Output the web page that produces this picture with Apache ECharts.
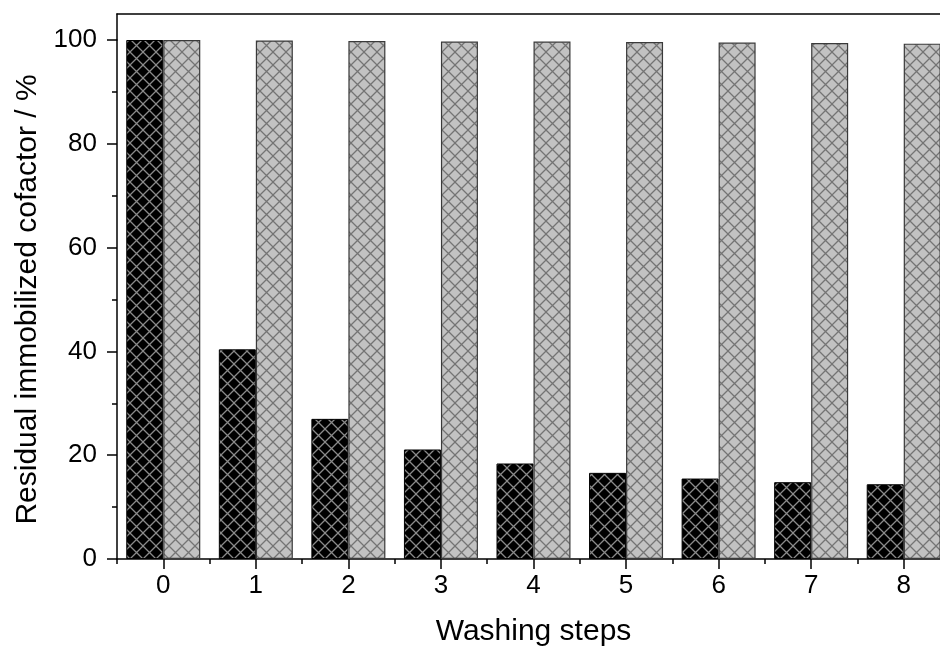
<!DOCTYPE html>
<html>
<head>
<meta charset="utf-8">
<script src="https://cdn.jsdelivr.net/npm/echarts@6/dist/echarts.min.js"></script>
<style>
html,body{margin:0;padding:0;background:#fff;}
#chart{width:940px;height:650px;}
</style>
</head>
<body>
<div id="chart"></div>
<script>
// ---- data ----
var categories = ['0', '1', '2', '3', '4', '5', '6', '7', '8'];
var seriesA = [100, 40.4, 27.0, 21.1, 18.4, 16.6, 15.5, 14.8, 14.4];   // black bars
var seriesB = [100, 99.9, 99.8, 99.7, 99.7, 99.6, 99.5, 99.4, 99.3];   // grey bars
var yTicks = [0, 20, 40, 60, 80, 100];

// ---- hatch patterns ----
function hatch(bg, line) {
  var s = 13;
  var c = document.createElement('canvas');
  c.width = s; c.height = s;
  var ctx = c.getContext('2d');
  ctx.fillStyle = bg;
  ctx.fillRect(0, 0, s, s);
  ctx.strokeStyle = line;
  ctx.lineWidth = 1.3;
  ctx.beginPath();
  ctx.moveTo(-1, -1); ctx.lineTo(s + 1, s + 1);
  ctx.moveTo(s + 1, -1); ctx.lineTo(-1, s + 1);
  ctx.stroke();
  return c;
}
var patBlack = { image: hatch('#000000', '#8a8a8a'), repeat: 'repeat' };
var patGrey = { image: hatch('#c2c2c2', '#747474'), repeat: 'repeat' };

var FONT = 'Liberation Sans, Arial, sans-serif';
var chart = echarts.init(document.getElementById('chart'), null, { renderer: 'canvas' });

chart.setOption({
  backgroundColor: '#ffffff',
  animation: false,
  grid: [
    { left: 117, width: 833, top: 40, bottom: 91, outerBoundsMode: 'none', containLabel: false },
    { left: 117, width: 833, top: 14, height: 26, outerBoundsMode: 'none', containLabel: false }
  ],
  xAxis: [
    {
      type: 'category', gridIndex: 0, position: 'bottom', data: categories,
      axisLine: { show: true, onZero: false, lineStyle: { color: '#000', width: 1.5 } },
      axisTick: { show: true, alignWithLabel: true, inside: false, length: 10, lineStyle: { color: '#000', width: 1.5 } },
      axisLabel: { color: '#000', fontSize: 26, fontFamily: FONT, margin: 14 },
      name: 'Washing steps', nameLocation: 'middle', nameGap: 58,
      nameTextStyle: { color: '#000', fontSize: 30, fontFamily: FONT },
      splitLine: { show: false }
    },
    {
      type: 'category', gridIndex: 0, position: 'bottom', data: categories,
      axisLine: { show: false, onZero: false },
      axisTick: { show: true, alignWithLabel: false, inside: false, length: 5, lineStyle: { color: '#000', width: 1.5 } },
      axisLabel: { show: false },
      splitLine: { show: false }
    },
    {
      type: 'category', gridIndex: 1, position: 'top', data: categories,
      axisLine: { show: true, onZero: false, lineStyle: { color: '#000', width: 1.5 } },
      axisTick: { show: false }, axisLabel: { show: false }, splitLine: { show: false }
    }
  ],
  yAxis: [
    {
      type: 'value', gridIndex: 0, min: yTicks[0], max: yTicks[yTicks.length - 1], interval: 20,
      axisLine: { show: true, onZero: false, lineStyle: { color: '#000', width: 1.5 } },
      axisTick: { show: true, inside: false, length: 10, lineStyle: { color: '#000', width: 1.5 } },
      minorTick: { show: true, splitNumber: 2, length: 5, lineStyle: { color: '#000', width: 1.5 } },
      axisLabel: { color: '#000', fontSize: 26, fontFamily: FONT, margin: 20 },
      splitLine: { show: false },
      name: 'Residual immobilized cofactor / %', nameLocation: 'middle', nameGap: 74,
      nameTextStyle: { color: '#000', fontSize: 30, fontFamily: FONT }
    },
    {
      type: 'value', gridIndex: 1, min: 0, max: 1,
      axisLine: { show: true, onZero: false, lineStyle: { color: '#000', width: 1.5 } },
      axisTick: { show: false }, axisLabel: { show: false }, splitLine: { show: false }
    }
  ],
  series: [
    {
      type: 'bar', xAxisIndex: 0, yAxisIndex: 0, data: seriesA,
      barWidth: 37, barGap: '0%',
      itemStyle: { color: patBlack, borderColor: '#000', borderWidth: 1 }
    },
    {
      type: 'bar', xAxisIndex: 0, yAxisIndex: 0, data: seriesB,
      barWidth: 37, barGap: '0%',
      itemStyle: { color: patGrey, borderColor: '#3a3a3a', borderWidth: 1.2 }
    }
  ]
});
</script>
</body>
</html>
